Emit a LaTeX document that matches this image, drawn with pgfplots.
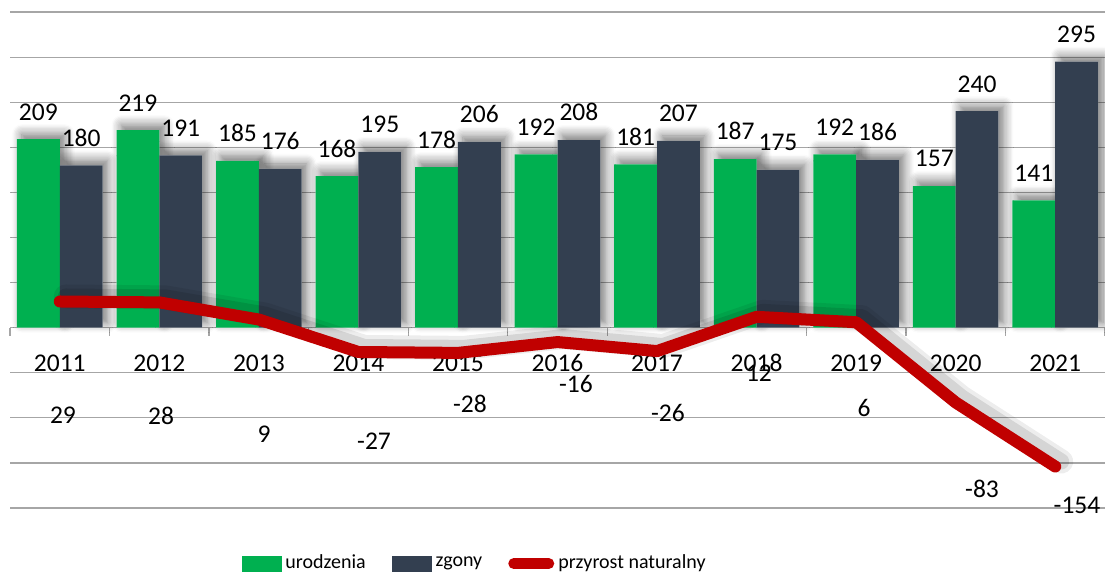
\documentclass[border=0pt]{standalone}
\usepackage{pgfplots}
\pgfplotsset{compat=1.18}
\usepackage{fontspec}
\setmainfont{Carlito}
\usetikzlibrary{shadows.blur}
\definecolor{cgreen}{HTML}{00B050}
\definecolor{cdark}{HTML}{333F50}
\definecolor{cred}{HTML}{C00000}
\definecolor{cgrid}{HTML}{A6A6A6}
\newcommand{\lblfont}{\fontsize{12.75}{15}\selectfont}
\begin{document}
\begin{tikzpicture}
\begin{axis}[
  at={(0,0)}, anchor=south west,
  scale only axis, width=547.5pt, height=248pt,
  xmin=-0.5, xmax=10.5, ymin=-200, ymax=350,
  clip=false,
  axis x line*=middle, axis y line*=left,
  x axis line style={draw=cgrid, line width=0.6pt},
  y axis line style={draw=none},
  ytick={-200,-150,...,350}, yticklabels={}, major y tick style={draw=none},
  ymajorgrids, grid style={draw=cgrid, line width=0.6pt},
  xtick={0,...,10},
  xticklabels={2011,2012,2013,2014,2015,2016,2017,2018,2019,2020,2021},
  major x tick style={draw=none},
  major tick length=0pt,
  minor xtick={-0.5,0.5,...,10.5},
  minor x tick style={draw=cgrid, line width=0.6pt},
  minor tick length=4pt,
  tick align=outside,
  xticklabel style={anchor=center, inner sep=0pt, yshift=-17.75pt, font=\lblfont},
  /pgf/number format/assume math mode=true,
  legend columns=3,
  legend cell align=left,
  legend style={at={(0.4252,-0.112)}, anchor=center, draw=none, fill=none,
    font=\fontsize{10}{12}\selectfont,
    nodes={inner sep=2pt},
    /tikz/every even column/.append style={column sep=11pt}},
]
% bar shadows
\addplot[ybar, bar width=0.43, bar shift=-0.215, fill=white, draw=none, forget plot,
  blur shadow={shadow xshift=2.5pt, shadow yshift=2.5pt, shadow blur radius=5pt, shadow opacity=55, shadow blur steps=8}]
  coordinates {(0,209) (1,219) (2,185) (3,168) (4,178) (5,192) (6,181) (7,187) (8,192) (9,157) (10,141)};
\addplot[ybar, bar width=0.43, bar shift=0.215, fill=white, draw=none, forget plot,
  blur shadow={shadow xshift=2.5pt, shadow yshift=2.5pt, shadow blur radius=5pt, shadow opacity=55, shadow blur steps=8}]
  coordinates {(0,180) (1,191) (2,176) (3,195) (4,206) (5,208) (6,207) (7,175) (8,186) (9,240) (10,295)};
% bars
\addplot[ybar, bar width=0.43, bar shift=-0.215, fill=cgreen, draw=none, forget plot,
  nodes near coords, every node near coord/.append style={font=\lblfont, inner sep=0pt, anchor=south, xshift=-10.7pt, yshift=9.25pt, text=black}]
  coordinates {(0,209) (1,219) (2,185) (3,168) (4,178) (5,192) (6,181) (7,187) (8,192) (9,157) (10,141)};
\addplot[ybar, bar width=0.43, bar shift=0.215, fill=cdark, draw=none, forget plot,
  nodes near coords, every node near coord/.append style={font=\lblfont, inner sep=0pt, anchor=south, xshift=10.7pt, yshift=9.25pt, text=black}]
  coordinates {(0,180) (1,191) (2,176) (3,195) (4,206) (5,208) (6,207) (7,175) (8,186) (9,240) (10,295)};
% line shadow
\addplot[forget plot, draw=black, opacity=0.07, line width=12pt, line cap=round, line join=round, xshift=3pt, yshift=2.5pt]
  coordinates {(0,29) (1,28) (2,9) (3,-27) (4,-28) (5,-16) (6,-26) (7,12) (8,6) (9,-83) (10,-154)};
\addplot[forget plot, draw=black, opacity=0.1, line width=8pt, line cap=round, line join=round, xshift=3pt, yshift=2.5pt]
  coordinates {(0,29) (1,28) (2,9) (3,-27) (4,-28) (5,-16) (6,-26) (7,12) (8,6) (9,-83) (10,-154)};
% line
\addplot[forget plot, draw=cred, line width=6pt, line cap=round, line join=round]
  coordinates {(0,29) (1,28) (2,9) (3,-27) (4,-28) (5,-16) (6,-26) (7,12) (8,6) (9,-83) (10,-154)};
% line labels
\addplot[forget plot, draw=none, mark=none, nodes near coords, point meta=explicit symbolic,
  nodes near coords align={anchor=center},
  every node near coord/.append style={font=\lblfont, inner sep=0pt, anchor=center, text=black}]
  coordinates {(0.032,-97.2) [29] (1.017,-97.3) [28] (2.052,-118.3) [9] (3.157,-125.6) [-27]
    (4.121,-84.4) [-28] (5.186,-62.2) [-16] (6.110,-94.4) [-26] (7.024,-50.6) [12]
    (8.079,-89.4) [6] (9.265,-178.3) [-83] (10.219,-196.7) [-154]};
% legend
\addlegendimage{legend image code/.code={\fill[cgreen] (0pt,-3.75pt) rectangle (19.5pt,3.75pt);}}
\addlegendentry{urodzenia}
\addlegendimage{legend image code/.code={\fill[cdark] (0pt,-3.75pt) rectangle (19.5pt,3.75pt);}}
\addlegendentry{zgony}
\addlegendimage{legend image code/.code={\draw[cred, line width=5.5pt, line cap=round] (2.75pt,0pt) -- (20.25pt,0pt);}}
\addlegendentry{przyrost naturalny}
\end{axis}
\pgfresetboundingbox
\path[use as bounding box] (-5pt,-33pt) rectangle (547.5pt,254pt);
\end{tikzpicture}
\end{document}
